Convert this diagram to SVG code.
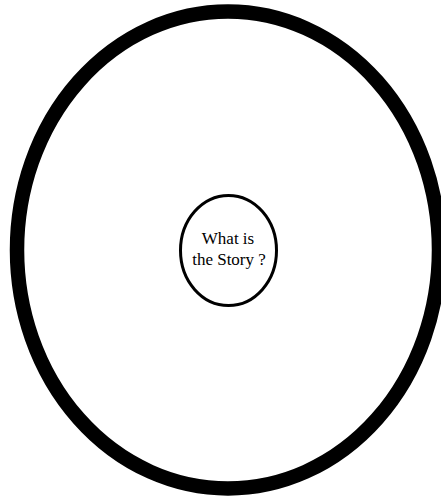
<svg xmlns="http://www.w3.org/2000/svg" width="441" height="502" viewBox="0 0 441 502">
<style>
.lbl{font-family:"Liberation Serif","DejaVu Serif",serif;font-size:17px;fill:#000;text-anchor:middle}
</style>
<rect width="441" height="502" fill="#fff"/>
<g id="outer">
<ellipse cx="228" cy="250" rx="211" ry="238.5" fill="none" stroke="#000" stroke-width="14.5"/>
</g>
<g id="story">
<ellipse cx="228.5" cy="250.5" rx="48" ry="55" fill="#fff" stroke="#000" stroke-width="3"/>
<text class="lbl" x="228" y="244">What is</text>
<text class="lbl" x="229" y="265">the Story ?</text>
</g>
<g id="connectors"/>
</svg>
